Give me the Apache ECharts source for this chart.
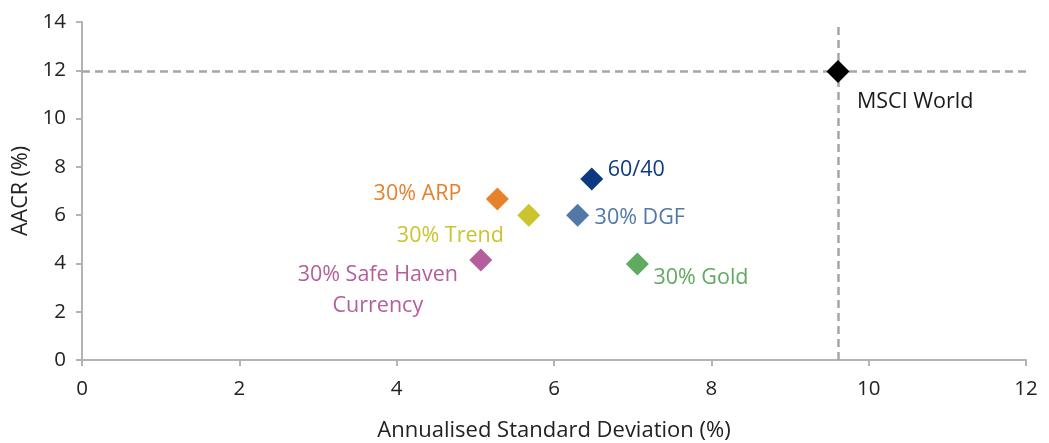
<!DOCTYPE html>
<html>
<head>
<meta charset="utf-8">
<script src="https://cdn.jsdelivr.net/npm/echarts@6/dist/echarts.min.js"></script>
<style>
html,body{margin:0;padding:0;background:#fff;}
#chart{width:1049px;height:443px;}
</style>
</head>
<body>
<div id="chart"></div>
<script>
// Data
const names = ['MSCI World', '60/40', '30% ARP', '30% Trend', '30% DGF', '30% Safe Haven\nCurrency', '30% Gold'];
const stdDev = [9.61, 6.48, 5.28, 5.68, 6.30, 5.07, 7.06];
const aacr = [11.95, 7.5, 6.67, 6.0, 6.0, 4.14, 3.98];
const refX = 9.61;
const refY = 11.95;
const xTicks = [0, 2, 4, 6, 8, 10, 12];
const yTicks = [0, 2, 4, 6, 8, 10, 12, 14];

// Styles
const colors = ['#000000', '#0e3a82', '#e8822a', '#cbc42d', '#5178a7', '#b55e9c', '#60aa61'];
const labelColors = ['#1a1a1a', '#0e3a82', '#e8822a', '#cbc42d', '#5178a7', '#b55e9c', '#60aa61'];
const labelLayouts = [
  {align: 'left', offset: [19, 30]},
  {align: 'left', offset: [16, -9]},
  {align: 'right', offset: [-36, -5]},
  {align: 'right', offset: [-25, 21]},
  {align: 'left', offset: [17, 3]},
  {align: 'center', offset: [-103, 30]},
  {align: 'left', offset: [16, 14]}
];
const FONT = '"Open Sans"';

const chart = echarts.init(document.getElementById('chart'));
const data = names.map((n, i) => ({
  name: n,
  value: [stdDev[i], aacr[i]],
  itemStyle: {color: colors[i], opacity: 1},
  label: {
    show: true,
    formatter: n,
    position: 'inside',
    align: labelLayouts[i].align,
    verticalAlign: 'middle',
    offset: labelLayouts[i].offset,
    color: labelColors[i],
    fontFamily: FONT,
    fontSize: 21.5,
    lineHeight: 31
  }
}));

chart.setOption({
  animation: false,
  grid: {left: 82, right: 23, top: 22, bottom: 83, containLabel: false, outerBoundsMode: 'none'},
  xAxis: {
    type: 'value', min: xTicks[0], max: xTicks[xTicks.length - 1], interval: 2,
    name: 'Annualised Standard Deviation (%)', nameLocation: 'middle', nameGap: 60,
    nameTextStyle: {color: '#222', fontFamily: FONT, fontSize: 22},
    axisLine: {show: true, lineStyle: {color: '#b3b3b3', width: 2}},
    axisTick: {show: true, length: 6, lineStyle: {color: '#b3b3b3', width: 2}},
    axisLabel: {color: '#222', fontFamily: FONT, fontSize: 20.5, margin: 19},
    splitLine: {show: false}
  },
  yAxis: {
    type: 'value', min: yTicks[0], max: yTicks[yTicks.length - 1], interval: 2,
    name: 'AACR (%)', nameLocation: 'middle', nameGap: 47,
    nameTextStyle: {color: '#222', fontFamily: FONT, fontSize: 21.5},
    axisLine: {show: true, lineStyle: {color: '#b3b3b3', width: 2}},
    axisTick: {show: true, length: 6, lineStyle: {color: '#b3b3b3', width: 2}},
    axisLabel: {color: '#222', fontFamily: FONT, fontSize: 20.5, margin: 16},
    splitLine: {show: false}
  },
  series: [{
    type: 'scatter',
    symbol: 'diamond',
    symbolSize: 23,
    data: data,
    z: 3,
    emphasis: {disabled: true},
    markLine: {
      silent: true,
      symbol: 'none',
      label: {show: false},
      lineStyle: {color: '#a6a6a6', width: 2.5, type: [8, 5]},
      data: [{xAxis: refX}, {yAxis: refY}],
      z: 1
    }
  }]
});
</script>
</body>
</html>
